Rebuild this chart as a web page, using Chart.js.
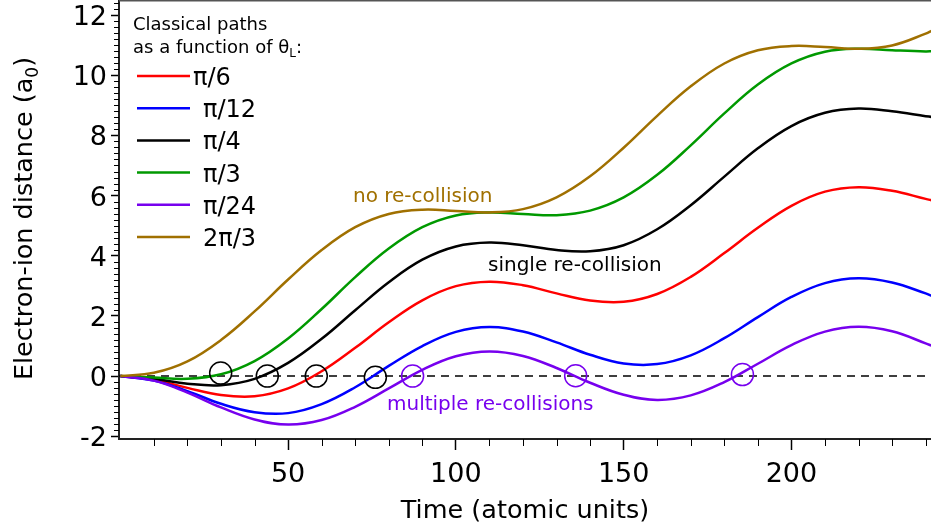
<!DOCTYPE html>
<html>
<head>
<meta charset="utf-8">
<script src="https://cdn.jsdelivr.net/npm/chart.js@4.4.1/dist/chart.umd.min.js"></script>
<style>
  html, body { margin: 0; padding: 0; background: #fff; }
  #wrap { width: 931px; height: 529px; }
</style>
</head>
<body>
<div id="wrap"><canvas id="chart" width="931" height="529"></canvas></div>
<script>
// time axis (atomic units)
const times = [0, 10, 20, 30, 40, 50, 60, 70, 80, 90, 100, 110, 120, 130, 140, 150, 160, 170, 180, 190, 200, 210, 220, 230, 240, 242];

// electron-ion distance (a0) for each launch angle
const pi6   = [0, -0.12, -0.39, -0.63, -0.67, -0.41, 0.16, 0.94, 1.79, 2.52, 2.99, 3.14, 3.02, 2.75, 2.51, 2.47, 2.73, 3.30, 4.09, 4.93, 5.66, 6.13, 6.28, 6.16, 5.89, 5.84];
const pi12  = [0, -0.15, -0.50, -0.92, -1.20, -1.23, -0.93, -0.37, 0.34, 1.00, 1.47, 1.63, 1.48, 1.12, 0.71, 0.42, 0.40, 0.69, 1.26, 1.96, 2.63, 3.09, 3.25, 3.11, 2.75, 2.66];
const pi4   = [0, -0.09, -0.25, -0.30, -0.09, 0.44, 1.24, 2.19, 3.12, 3.87, 4.31, 4.44, 4.35, 4.19, 4.15, 4.35, 4.88, 5.68, 6.63, 7.57, 8.31, 8.75, 8.89, 8.80, 8.64, 8.61];
const pi3   = [0, -0.05, -0.09, 0.06, 0.50, 1.25, 2.23, 3.29, 4.24, 4.95, 5.34, 5.44, 5.39, 5.35, 5.50, 5.94, 6.69, 7.67, 8.73, 9.69, 10.39, 10.78, 10.88, 10.83, 10.79, 10.80];
const pi24  = [0, -0.15, -0.55, -1.04, -1.44, -1.61, -1.46, -1.02, -0.41, 0.21, 0.66, 0.82, 0.67, 0.27, -0.22, -0.62, -0.79, -0.64, -0.20, 0.41, 1.03, 1.48, 1.64, 1.49, 1.09, 1.00];
const twoPi3 = [0, 0.11, 0.49, 1.20, 2.15, 3.21, 4.19, 4.95, 5.39, 5.53, 5.49, 5.44, 5.55, 5.94, 6.64, 7.59, 8.65, 9.63, 10.39, 10.83, 10.97, 10.94, 10.88, 10.99, 11.38, 11.49];

const seriesLabels = ['π/6', 'π/12', 'π/4', 'π/3', 'π/24', '2π/3'];
const seriesData = [pi6, pi12, pi4, pi3, pi24, twoPi3];
const seriesColors = ['#ff0000', '#0000ff', '#000000', '#009900', '#7700ee', '#a07000'];

// re-collision markers (time, distance)
const singleHitT = [29.9, 43.8, 58.4, 76.0];
const singleHitY = [0.1, 0, 0, -0.04];
const multiHitT = [87.1, 135.7, 185.4];
const multiHitY = [0, 0.01, 0.05];

const xMin = -0.4, xMax = 241.6;
const yMin = -2.09, yMax = 12.5;

const FONT = 'DejaVu Sans';

const datasets = seriesData.map((vals, i) => ({
    label: seriesLabels[i],
    data: vals.map((v, j) => ({ x: times[j], y: v })),
    borderColor: seriesColors[i],
    borderWidth: 2.5,
    pointRadius: 0,
    tension: 0.4,
    order: 20 - i
}));

datasets.push({
    label: 'zero',
    data: [{ x: xMin, y: 0 }, { x: xMax, y: 0 }],
    borderColor: '#000',
    borderWidth: 1.5,
    borderDash: [8, 6],
    pointRadius: 0,
    order: 30
});
datasets.push({
    label: 'single',
    data: singleHitT.map((t, i) => ({ x: t, y: singleHitY[i] })),
    showLine: false,
    pointRadius: 11,
    pointBorderWidth: 1.5,
    pointBorderColor: '#000',
    pointBackgroundColor: 'rgba(0,0,0,0)',
    order: 1
});
datasets.push({
    label: 'multi',
    data: multiHitT.map((t, i) => ({ x: t, y: multiHitY[i] })),
    showLine: false,
    pointRadius: 11,
    pointBorderWidth: 1.5,
    pointBorderColor: '#7700ee',
    pointBackgroundColor: 'rgba(0,0,0,0)',
    order: 1
});

function withSub(ctx, parts, x, y, size) {
    // parts alternate: normal, subscript, normal ...
    let cx = x;
    parts.forEach((p, i) => {
        if (i % 2 === 1) {
            ctx.font = Math.round(size * 0.68) + 'px ' + FONT;
            ctx.fillText(p, cx, y + size * 0.22);
        } else {
            ctx.font = size + 'px ' + FONT;
            ctx.fillText(p, cx, y);
        }
        cx += ctx.measureText(p).width;
    });
    return cx - x;
}
function measureSub(ctx, parts, size) {
    let w = 0;
    parts.forEach((p, i) => {
        ctx.font = (i % 2 === 1 ? Math.round(size * 0.68) : size) + 'px ' + FONT;
        w += ctx.measureText(p).width;
    });
    return w;
}

const decor = {
    id: 'decor',
    afterDraw(chart) {
        const { ctx, chartArea: a, scales: { x, y } } = chart;
        ctx.save();
        ctx.strokeStyle = '#000';
        ctx.lineWidth = 1;
        ctx.beginPath();
        // minor ticks on x every 10
        for (let v = 10; v < xMax; v += 10) {
            if (v % 50 === 0) continue;
            const px = Math.round(x.getPixelForValue(v)) + 0.5;
            ctx.moveTo(px, a.bottom);
            ctx.lineTo(px, a.bottom + 7);
        }
        // minor ticks on y every 0.2
        for (let k = -10; k <= 62; k++) {
            if (k % 10 === 0) continue;
            const v = k / 5;
            if (v < yMin || v > yMax) continue;
            const py = Math.round(y.getPixelForValue(v)) + 0.5;
            ctx.moveTo(a.left - 5, py);
            ctx.lineTo(a.left, py);
        }
        ctx.stroke();

        // top frame line
        ctx.strokeStyle = '#555';
        ctx.lineWidth = 1.5;
        ctx.beginPath();
        ctx.moveTo(a.left, a.top + 0.75);
        ctx.lineTo(a.right, a.top + 0.75);
        ctx.stroke();

        ctx.fillStyle = '#000';
        ctx.textBaseline = 'alphabetic';
        ctx.textAlign = 'left';

        // x title
        ctx.font = '25.5px ' + FONT;
        ctx.textAlign = 'center';
        ctx.fillText('Time (atomic units)', (a.left + a.right) / 2, 518);
        ctx.textAlign = 'left';

        // y title with subscript
        const yParts = ['Electron-ion distance (a', '0', ')'];
        const yw = measureSub(ctx, yParts, 25.5);
        ctx.save();
        ctx.translate(32, 218.5);
        ctx.rotate(-Math.PI / 2);
        withSub(ctx, yParts, -yw / 2, 0, 25.5);
        ctx.restore();

        // legend
        ctx.font = '18px ' + FONT;
        ctx.fillText('Classical paths', 133, 30);
        withSub(ctx, ['as a function of θ', 'L', ':'], 133, 53, 18);
        seriesLabels.forEach((lab, i) => {
            const ly = 76 + i * 32.2;
            ctx.strokeStyle = seriesColors[i];
            ctx.lineWidth = 2.5;
            ctx.beginPath();
            ctx.moveTo(137, ly);
            ctx.lineTo(190, ly);
            ctx.stroke();
            ctx.fillStyle = '#000';
            ctx.font = '24px ' + FONT;
            ctx.fillText(lab, i === 0 ? 193 : 203, ly + 9);
        });

        // annotations
        ctx.font = '20px ' + FONT;
        ctx.fillStyle = '#a07000';
        ctx.fillText('no re-collision', 353, 202);
        ctx.fillStyle = '#000';
        ctx.fillText('single re-collision', 488, 271);
        ctx.fillStyle = '#7700ee';
        ctx.fillText('multiple re-collisions', 387, 410);
        ctx.restore();
    }
};

new Chart(document.getElementById('chart'), {
    type: 'line',
    data: { datasets },
    options: {
        responsive: false,
        animation: false,
        devicePixelRatio: 1,
        layout: { padding: 0, autoPadding: false },
        plugins: { legend: { display: false }, tooltip: { enabled: false } },
        scales: {
            x: {
                type: 'linear',
                min: xMin,
                max: xMax,
                afterFit: (s) => { s.height = 90; s.paddingLeft = 0; s.paddingRight = 0; },
                ticks: {
                    stepSize: 50,
                    includeBounds: false,
                    padding: 9,
                    color: '#000',
                    font: { family: FONT, size: 27 },
                    maxRotation: 0,
                    callback: (v) => (v === 0 ? '' : v)
                },
                grid: {
                    drawOnChartArea: false,
                    drawTicks: true,
                    tickLength: 11,
                    tickWidth: 1.5,
                    tickColor: (c) => (c.tick && c.tick.value === 0 ? 'rgba(0,0,0,0)' : '#000')
                },
                border: { display: true, color: '#222', width: 2 }
            },
            y: {
                type: 'linear',
                min: yMin,
                max: yMax,
                afterFit: (s) => { s.width = 119; s.paddingTop = 0; s.paddingBottom = 0; },
                ticks: {
                    stepSize: 2,
                    includeBounds: false,
                    padding: 4,
                    labelOffset: 3,
                    color: '#000',
                    font: { family: FONT, size: 27 }
                },
                grid: {
                    drawOnChartArea: false,
                    drawTicks: true,
                    tickLength: 8,
                    tickWidth: 1.5,
                    tickColor: '#000'
                },
                border: { display: true, color: '#222', width: 2 }
            }
        }
    },
    plugins: [decor]
});
</script>
</body>
</html>
